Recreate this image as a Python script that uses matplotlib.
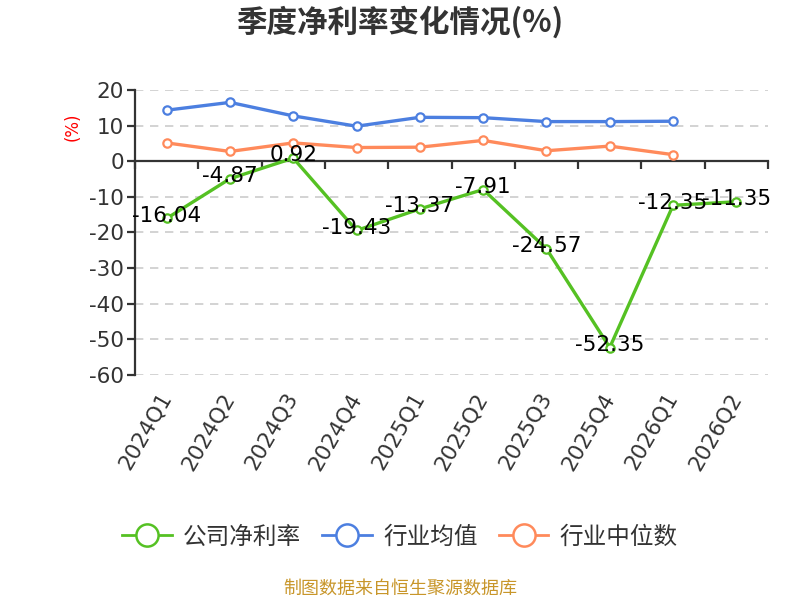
import matplotlib
matplotlib.use('Agg')
import matplotlib.pyplot as plt
from matplotlib.lines import Line2D
import numpy as np

categories = ['2024Q1', '2024Q2', '2024Q3', '2024Q4', '2025Q1',
              '2025Q2', '2025Q3', '2025Q4', '2026Q1', '2026Q2']
company = [-16.04, -4.87, 0.92, -19.43, -13.37, -7.91, -24.57, -52.35, -12.35, -11.35]
industry_avg = [14.4, 16.6, 12.8, 9.9, 12.4, 12.3, 11.2, 11.2, 11.3, np.nan]
industry_median = [5.2, 2.8, 5.2, 3.9, 4.0, 5.9, 3.0, 4.3, 1.9, np.nan]
series_names = ['公司净利率', '行业均值', '行业中位数']
title = '季度净利率变化情况(%)'
source = '制图数据来自恒生聚源数据库'

c_green = '#55c123'
c_blue = '#4c7fe0'
c_orange = '#ff8a5b'

plt.rcParams['font.family'] = ['DejaVu Sans', 'Noto Sans CJK SC']
plt.rcParams['axes.unicode_minus'] = False
cjk = ['Noto Sans CJK SC', 'DejaVu Sans']

fig = plt.figure(figsize=(8, 6), dpi=100)
ax = fig.add_axes([135 / 800, 1 - 374.7 / 600, (768 - 135) / 800, (374.7 - 90.3) / 600])

ymin, ymax = -60, 20
ax.set_ylim(ymin, ymax)
ax.set_xlim(-0.5, len(categories) - 0.5)
ax.set_yticks(np.arange(ymin, ymax + 1, 10))
ax.yaxis.grid(True, linestyle=(0, (5, 4)), color='#cccccc', linewidth=1.2)
ax.set_axisbelow(True)

for s in ['top', 'right', 'bottom']:
    ax.spines[s].set_visible(False)
ax.spines['left'].set_color('#333333')
ax.spines['left'].set_linewidth(1.6)
ax.tick_params(axis='y', direction='out', length=6, width=1.6, color='#333333',
               labelsize=15.5, labelcolor='#333333', pad=2)

x = np.arange(len(categories))
ax.set_xticks(x)
ax.set_xticklabels(categories, rotation=60, ha='right', va='center',
                   rotation_mode='anchor')
ax.tick_params(axis='x', length=0, pad=14, labelsize=15.5, labelcolor='#333333')

# zero axis line with boundary ticks
loc0 = (0 - ymin) / (ymax - ymin)
sec = ax.secondary_xaxis(loc0)
sec.set_alignment('bottom')
sec.set_xticks(np.arange(-0.5, len(categories), 1))
sec.tick_params(direction='out', length=6, width=1.6, color='#333333',
                labeltop=False, labelbottom=False)
for s in sec.spines.values():
    s.set_color('#333333')
    s.set_linewidth(1.6)
sec.set_zorder(2.5)

mk = dict(marker='o', ms=6, mfc='white', mew=1.6)
ax.plot(x, industry_avg, color=c_blue, lw=2.4, zorder=3, **mk)
ax.plot(x, industry_median, color=c_orange, lw=2.4, zorder=3, **mk)
ax.plot(x, company, color=c_green, lw=2.4, zorder=4, **mk)

for i, v in enumerate(company):
    ax.annotate(f'{v:.2f}', (x[i], v), xytext=(0, 2), textcoords='offset points',
                ha='center', va='center', fontsize=15.5, color='black', zorder=6)

fig.text(73 / 800, 1 - 127 / 600, '(%)', rotation=90, ha='center', va='center',
         color='red', fontsize=12)

fig.text(0.5, 1 - 22 / 600, title, ha='center', va='center', fontsize=22,
         fontweight='bold', color='#333333', family=cjk)

handles = [Line2D([], [], color=c, lw=2, marker='o', ms=16, mfc='white', mew=1.8)
           for c in (c_green, c_blue, c_orange)]
fig.legend(handles, series_names, loc='center', bbox_to_anchor=(0.5, 1 - 537 / 600),
           ncol=3, frameon=False, prop={'family': cjk, 'size': 17},
           handlelength=2.1, handletextpad=0.47, columnspacing=0.9,
           labelcolor='#333333')

fig.text(0.5, 1 - 589 / 600, source, ha='center', va='center', fontsize=13,
         color='#c8962a', family=cjk)

fig.savefig('out.png', dpi=100)
